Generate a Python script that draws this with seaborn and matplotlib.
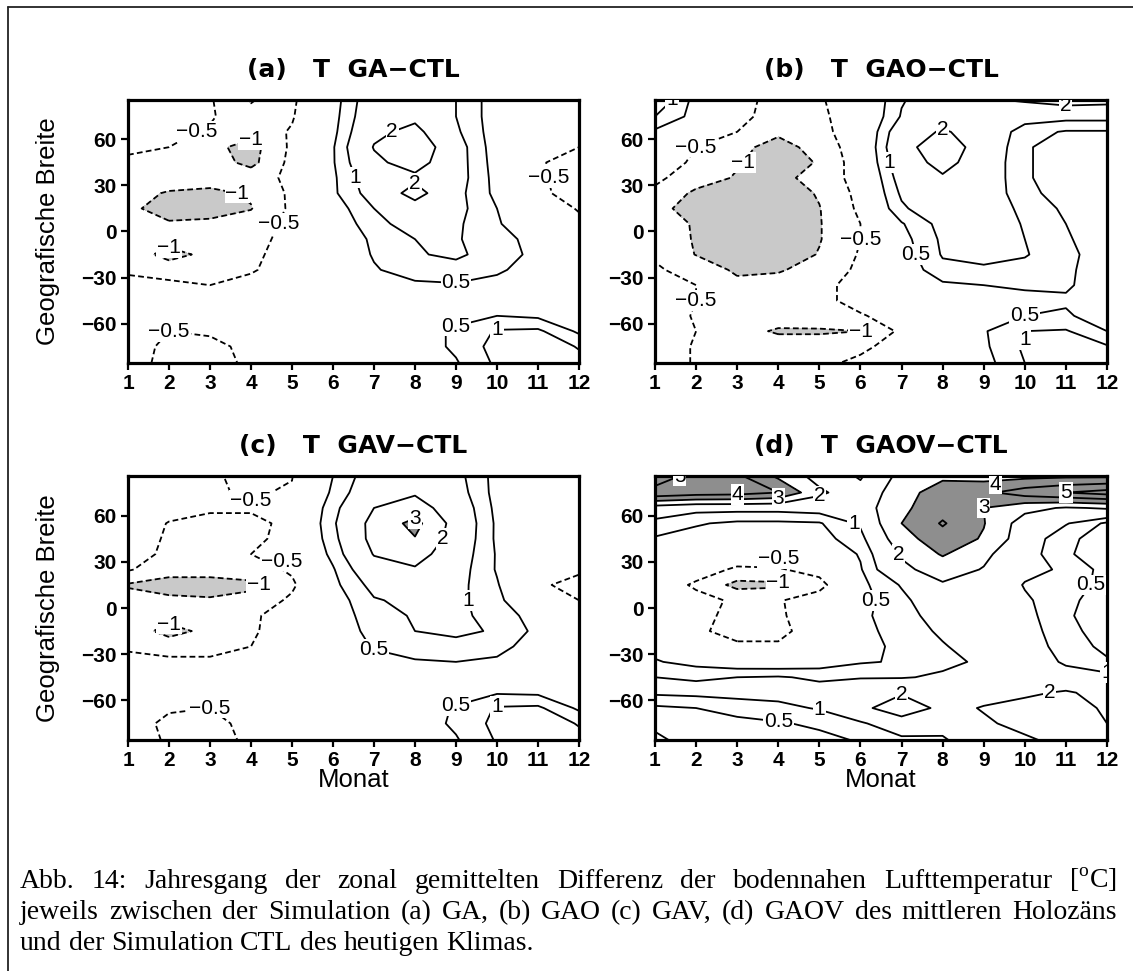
import numpy as np
import matplotlib
matplotlib.use("Agg")
import matplotlib.pyplot as plt
from matplotlib import font_manager
from matplotlib.lines import Line2D
import seaborn as sns

# ---------------- data ----------------
months = list(range(1, 13))
lats = [-85.76, -75, -65, -55, -45, -35, -25, -15, -5, 5, 15, 25, 35, 45, 55, 65, 75, 85.76]
yticks = [-60, -30, 0, 30, 60]
contour_levels = [-1, -0.5, 0.5, 1, 2, 3, 4, 5]
titles = ["(a)   T  GA\u2212CTL", "(b)   T  GAO\u2212CTL",
          "(c)   T  GAV\u2212CTL", "(d)   T  GAOV\u2212CTL"]

# each inner list = one month, values from south (-85.76) to north (85.76)
ga_ctl = [
    [-0.3, -0.3, -0.3, -0.2, -0.2, -0.4, -0.55, -0.6, -0.65, -0.75, -0.9, -0.8, -0.65, -0.55, -0.45, -0.3, -0.3, -0.3],
    [-0.65, -0.6, -0.5, -0.3, -0.3, -0.45, -0.6, -1.25, -0.7, -0.95, -1.2, -1.05, -0.7, -0.6, -0.5, -0.4, -0.3, -0.3],
    [-0.6, -0.6, -0.45, -0.3, -0.3, -0.5, -0.6, -0.8, -0.75, -0.9, -1.2, -1.1, -0.8, -0.75, -0.85, -0.55, -0.45, -0.45],
    [-0.45, -0.4, -0.3, -0.2, -0.2, -0.35, -0.55, -0.6, -0.65, -0.8, -1.02, -0.95, -0.7, -1.15, -1.2, -0.8, -0.8, -1.05],
    [-0.1, -0.1, -0.1, -0.1, -0.15, -0.2, -0.25, -0.3, -0.35, -0.35, -0.4, -0.4, -0.4, -0.35, -0.4, -0.45, -0.55, -0.6],
    [-0.1, -0.1, -0.1, -0.1, -0.1, -0.1, 0.0, 0.0, 0.05, 0.1, 0.2, 0.4, 0.4, 0.45, 0.45, 0.35, 0.3, 0.25],
    [0.0, 0.0, 0.0, 0.0, 0.1, 0.2, 0.45, 0.55, 0.6, 0.8, 1.0, 1.3, 1.5, 1.8, 2.05, 1.8, 1.6, 1.5],
    [0.2, 0.2, 0.2, 0.1, 0.2, 0.4, 0.75, 0.95, 1.0, 1.3, 1.6, 2.35, 1.8, 2.4, 2.7, 2.25, 1.8, 1.7],
    [0.45, 0.6, 0.6, 0.3, 0.2, 0.45, 0.8, 1.1, 1.05, 1.1, 1.2, 1.2, 1.3, 1.3, 1.3, 1.1, 1.0, 1.0],
    [1.1, 1.2, 1.05, 0.5, 0.2, 0.3, 0.6, 0.75, 0.7, 0.55, 0.5, 0.35, 0.3, 0.25, 0.2, 0.2, 0.2, 0.2],
    [1.3, 1.4, 1.1, 0.4, 0.1, 0.1, 0.2, 0.35, 0.3, 0.1, -0.1, -0.4, -0.4, -0.45, -0.3, -0.1, 0.0, 0.1],
    [1.2, 0.95, 0.4, 0.1, 0.0, 0.0, 0.1, 0.1, 0.0, -0.35, -0.55, -0.7, -0.8, -0.7, -0.5, -0.3, -0.1, 0.0],
]

gao_ctl = [
    [-0.2, -0.2, -0.2, -0.2, -0.3, -0.35, -0.45, -0.55, -0.65, -0.75, -0.85, -0.6, -0.4, -0.2, 0.0, 0.4, 1.0, 1.5],
    [-0.55, -0.55, -0.5, -0.55, -0.5, -0.5, -0.65, -1.02, -1.05, -1.05, -1.2, -1.1, -0.75, -0.6, -0.5, -0.3, 0.3, 0.3],
    [-0.6, -0.6, -0.85, -0.7, -0.7, -0.85, -1.1, -1.3, -1.4, -1.4, -1.4, -1.3, -1.05, -0.95, -0.85, -0.5, -0.4, -0.4],
    [-0.65, -0.8, -1.05, -0.8, -0.7, -0.8, -1.05, -1.3, -1.4, -1.4, -1.4, -1.3, -1.15, -1.3, -1.2, -0.9, -0.65, -0.6],
    [-0.6, -0.8, -1.05, -0.75, -0.65, -0.65, -0.8, -0.97, -1.03, -1.03, -1.02, -0.95, -0.8, -0.95, -0.8, -0.65, -0.6, -0.55],
    [-0.4, -0.6, -1.0, -0.55, -0.3, -0.3, -0.4, -0.45, -0.5, -0.5, -0.4, -0.35, -0.3, -0.2, -0.2, -0.2, -0.2, -0.2],
    [-0.3, -0.3, -0.4, -0.25, -0.1, 0.0, 0.1, 0.2, 0.3, 0.45, 0.9, 1.1, 1.3, 1.5, 1.7, 1.5, 1.05, 0.95],
    [0.0, 0.0, 0.0, 0.0, 0.1, 0.4, 0.85, 1.05, 1.1, 1.2, 1.5, 1.8, 1.9, 2.3, 2.5, 2.1, 1.5, 1.4],
    [0.3, 0.4, 0.45, 0.2, 0.3, 0.5, 0.9, 1.2, 1.3, 1.4, 1.4, 1.5, 1.5, 1.5, 1.6, 1.6, 1.8, 1.9],
    [1.0, 1.1, 1.0, 0.5, 0.4, 0.55, 0.8, 1.05, 1.0, 0.95, 0.85, 0.6, 0.55, 0.55, 0.55, 0.7, 1.3, 2.1],
    [1.3, 1.2, 1.05, 0.55, 0.45, 0.55, 0.55, 0.6, 0.55, 0.5, 0.4, 0.35, 0.3, 0.3, 0.3, 0.45, 1.2, 2.4],
    [1.3, 1.05, 0.5, 0.3, 0.3, 0.3, 0.35, 0.3, 0.25, 0.2, 0.2, 0.2, 0.2, 0.25, 0.3, 0.45, 1.2, 2.3],
]

gav_ctl = [
    [-0.3, -0.3, -0.3, -0.2, -0.2, -0.4, -0.55, -0.6, -0.65, -0.8, -1.05, -0.45, -0.3, -0.3, -0.25, -0.2, -0.2, -0.2],
    [-0.55, -0.6, -0.45, -0.3, -0.3, -0.45, -0.6, -1.25, -0.7, -0.9, -1.2, -0.8, -0.6, -0.55, -0.52, -0.35, -0.3, -0.3],
    [-0.6, -0.6, -0.5, -0.3, -0.3, -0.45, -0.6, -0.8, -0.75, -0.95, -1.2, -0.8, -0.7, -0.65, -0.6, -0.45, -0.45, -0.45],
    [-0.45, -0.4, -0.3, -0.2, -0.2, -0.35, -0.5, -0.55, -0.55, -0.85, -1.1, -0.75, -0.5, -0.6, -0.6, -0.45, -0.55, -0.6],
    [-0.2, -0.2, -0.1, -0.1, -0.1, -0.2, -0.3, -0.3, -0.35, -0.4, -0.6, -0.42, -0.35, -0.35, -0.4, -0.4, -0.45, -0.52],
    [-0.1, -0.1, 0.0, 0.0, 0.0, 0.0, 0.05, 0.1, 0.15, 0.2, 0.35, 0.45, 0.65, 0.8, 0.9, 0.8, 0.6, 0.5],
    [0.0, 0.0, 0.0, 0.0, 0.1, 0.3, 0.55, 0.7, 0.8, 0.95, 1.2, 1.6, 2.05, 2.3, 2.3, 2.0, 1.6, 1.4],
    [0.2, 0.2, 0.2, 0.1, 0.2, 0.45, 0.75, 1.0, 1.05, 1.15, 1.4, 1.9, 2.4, 2.95, 3.3, 2.4, 1.9, 1.7],
    [0.45, 0.6, 0.55, 0.25, 0.3, 0.5, 0.85, 1.1, 1.1, 1.15, 1.2, 1.3, 1.4, 1.55, 1.6, 1.5, 1.3, 1.2],
    [1.05, 1.15, 1.05, 0.45, 0.2, 0.4, 0.7, 0.95, 0.85, 0.65, 0.55, 0.45, 0.45, 0.4, 0.4, 0.35, 0.3, 0.3],
    [1.3, 1.4, 1.1, 0.4, 0.1, 0.1, 0.2, 0.35, 0.2, -0.2, -0.45, -0.35, -0.2, -0.1, -0.1, -0.1, -0.1, 0.0],
    [1.2, 0.95, 0.4, 0.1, 0.0, 0.0, 0.1, 0.1, -0.1, -0.5, -0.6, -0.45, -0.3, -0.2, -0.2, -0.1, -0.1, 0.0],
]

gaov_ctl = [
    [0.6, 0.4, 0.4, 1.1, 1.0, 0.55, 0.3, 0.2, 0.1, 0.0, -0.1, 0.1, 0.3, 0.45, 0.8, 1.5, 4.8, 5.3],
    [0.3, 0.35, 0.5, 1.15, 0.95, 0.3, -0.2, -0.45, -0.4, -0.3, -0.6, -0.2, 0.1, 0.3, 0.55, 1.2, 4.5, 4.8],
    [0.3, 0.35, 0.7, 1.2, 1.0, 0.1, -0.45, -0.6, -0.6, -0.6, -1.15, -0.6, -0.1, 0.2, 0.4, 1.2, 4.4, 4.2],
    [0.25, 0.45, 0.85, 1.2, 1.05, 0.05, -0.45, -0.6, -0.55, -0.55, -1.1, -0.55, -0.1, 0.2, 0.4, 1.2, 4.0, 2.8],
    [0.35, 0.6, 1.05, 1.25, 0.9, 0.2, -0.1, -0.3, -0.3, -0.2, -0.7, -0.3, 0.0, 0.3, 0.45, 1.3, 2.2, 1.6],
    [0.55, 0.9, 1.75, 1.6, 0.95, 0.45, 0.35, 0.35, 0.4, 0.3, 0.35, 0.45, 0.55, 0.8, 1.1, 1.5, 1.3, 0.9],
    [0.85, 1.5, 2.6, 1.9, 0.95, 0.55, 0.6, 0.7, 0.75, 0.85, 1.05, 1.8, 2.1, 2.6, 3.0, 2.8, 2.6, 2.3],
    [0.9, 1.3, 1.75, 1.5, 1.1, 0.85, 0.95, 1.1, 1.3, 1.5, 1.9, 2.4, 3.1, 3.6, 4.1, 3.6, 3.5, 2.8],
    [1.6, 1.9, 2.05, 1.7, 1.3, 1.1, 1.3, 1.35, 1.4, 1.5, 1.7, 1.95, 2.2, 2.9, 3.05, 3.0, 3.8, 2.6],
    [1.9, 2.2, 2.3, 1.85, 1.6, 1.45, 1.4, 1.3, 1.2, 1.1, 0.95, 1.2, 1.3, 1.4, 1.5, 2.3, 4.5, 2.7],
    [2.2, 2.3, 2.3, 2.1, 1.3, 0.9, 0.7, 0.6, 0.55, 0.6, 0.8, 0.9, 0.55, 0.6, 1.05, 1.9, 5.0, 2.8],
    [2.1, 2.0, 1.9, 1.7, 1.2, 0.55, 0.4, 0.35, 0.3, 0.3, 0.3, 0.3, 0.3, 0.3, 0.4, 2.1, 5.4, 2.8],
]

caption_lines = [
    "Abb. 14: Jahresgang der zonal gemittelten Differenz der bodennahen Lufttemperatur [$^{\\mathrm{o}}$C]",
    "jeweils zwischen der Simulation (a) GA, (b) GAO (c) GAV, (d) GAOV des mittleren Holozäns",
    "und der Simulation CTL des heutigen Klimas.",
]
ylabel_text = "Geografische Breite"
xlabel_text = "Monat"

# ---------------- style ----------------
sns.set_theme(style="white")
names = {f.name for f in font_manager.fontManager.ttflist}


def pick(*cands):
    for c in cands:
        if c in names:
            return c
    return "DejaVu Sans"


NARROW = pick("Liberation Sans Narrow", "Liberation Sans")
SANS = pick("Liberation Sans", "Arial")
SERIF = pick("Liberation Serif", "DejaVu Serif")
plt.rcParams["font.family"] = [SANS, "DejaVu Sans"]
plt.rcParams["mathtext.fontset"] = "custom"
plt.rcParams["mathtext.rm"] = SERIF
plt.rcParams["axes.unicode_minus"] = True
for key in ["text.color", "axes.labelcolor", "xtick.color", "ytick.color", "axes.edgecolor"]:
    plt.rcParams[key] = "black"

light_fill, dark_fill = sns.color_palette(["#c9c9c9", "#8e8e8e"])

W, H = 1133, 971
fig = plt.figure(figsize=(W / 100, H / 100), dpi=100)
fig.patch.set_facecolor("white")
renderer = fig.canvas.get_renderer()


def box(l, t, r, b):
    return [l / W, 1 - b / H, (r - l) / W, (b - t) / H]


boxes = [box(128, 100, 579, 363), box(655, 100, 1107, 363),
         box(128, 476, 579, 740), box(655, 476, 1107, 740)]
fields = [ga_ctl, gao_ctl, gav_ctl, gaov_ctl]


def fmt(v):
    s = f"{v:g}"
    return s.replace("-", "\u2212")


def separate(ax, texts):
    """Nudge contour labels vertically so that none of them overlap."""
    kept = []
    inv = ax.transData.inverted()
    for t in texts:
        for _ in range(8):
            bb = t.get_window_extent(renderer).expanded(1.08, 1.15)
            hit = next((k for k in kept if bb.overlaps(k)), None)
            if hit is None:
                break
            cy, hy = (bb.y0 + bb.y1) / 2, (hit.y0 + hit.y1) / 2
            shift = -(bb.y1 - hit.y0 + 2) if cy <= hy else (hit.y1 - bb.y0 + 2)
            x, y = t.get_position()
            px = ax.transData.transform((x, y))
            t.set_position(inv.transform((px[0], px[1] + shift)))
        kept.append(t.get_window_extent(renderer).expanded(1.08, 1.15))


for i, (bx, data, title) in enumerate(zip(boxes, fields, titles)):
    ax = fig.add_axes(bx)
    Z = np.array(data, dtype=float).T
    ax.contourf(months, lats, Z, levels=[-50, -1], colors=[light_fill])
    ax.contourf(months, lats, Z, levels=[3, 50], colors=[dark_fill])
    styles = [(0, (3.2, 1.8)) if v < 0 else "solid" for v in contour_levels]
    cs = ax.contour(months, lats, Z, levels=contour_levels, colors="black",
                    linewidths=1.3, linestyles=styles)
    ax.set_xlim(1, 12)
    ax.set_ylim(-85.76, 85.76)
    labels = ax.clabel(cs, inline=False, fmt=fmt, fontsize=15)
    for t in labels:
        t.set_fontfamily(NARROW)
        t.set_rotation(0)
        t.set_color("black")
        t.set_bbox(dict(facecolor="white", edgecolor="none", pad=0.6))
        t.set_clip_on(True)
    separate(ax, labels)
    ax.set_xticks(months)
    ax.set_xticklabels([str(m) for m in months])
    ax.set_yticks(yticks)
    ax.set_yticklabels([fmt(v) for v in yticks])
    for lab in ax.get_xticklabels() + ax.get_yticklabels():
        lab.set_fontfamily(NARROW)
        lab.set_fontweight("bold")
        lab.set_fontsize(15)
        lab.set_color("black")
    ax.tick_params(axis="both", direction="out", length=5, width=1.6,
                   color="black", pad=3, bottom=True, left=True)
    for sp in ax.spines.values():
        sp.set_linewidth(2.3)
        sp.set_color("black")
        sp.set_visible(True)
    ax.set_facecolor("white")
    pos = ax.get_position()
    cx = (pos.x0 + pos.x1) / 2
    fig.text(cx, pos.y1 + 30 / H, title, ha="center", va="center", color="black",
             fontsize=18, fontweight="bold", family="DejaVu Sans")
    if i % 2 == 0:
        fig.text(48 / W, (pos.y0 + pos.y1) / 2, ylabel_text, rotation=90, color="black",
                 ha="center", va="center", fontsize=18.5, family=SANS)
    if i >= 2:
        fig.text(cx, 1 - 780 / H, xlabel_text, ha="center", va="center", color="black",
                 fontsize=18.5, family=SANS)

# ---------------- caption (justified) ----------------
cap_fs = 20
x_left, x_right = 20, 1117
baselines = [888, 919, 950]
for k, (line, yb) in enumerate(zip(caption_lines, baselines)):
    words = line.split(" ")
    texts = [fig.text(0, 1 - yb / H, w, fontsize=cap_fs, family=SERIF,
                      va="baseline", ha="left", color="black") for w in words]
    widths = [t.get_window_extent(renderer).width for t in texts]
    if k < 2:
        gap = (x_right - x_left - sum(widths)) / (len(words) - 1)
    else:
        gap = cap_fs * 1.389 * 0.25
    x = x_left
    for t, w in zip(texts, widths):
        t.set_x(x / W)
        x += w + gap

# ---------------- outer frame ----------------
fig.add_artist(Line2D([7.5 / W, 7.5 / W], [0, 1 - 7.5 / H], transform=fig.transFigure,
                      color="#222222", lw=1.3))
fig.add_artist(Line2D([7.5 / W, 1], [1 - 7.5 / H, 1 - 7.5 / H], transform=fig.transFigure,
                      color="#222222", lw=1.3))

fig.savefig("out.png", dpi=100, facecolor="white")
